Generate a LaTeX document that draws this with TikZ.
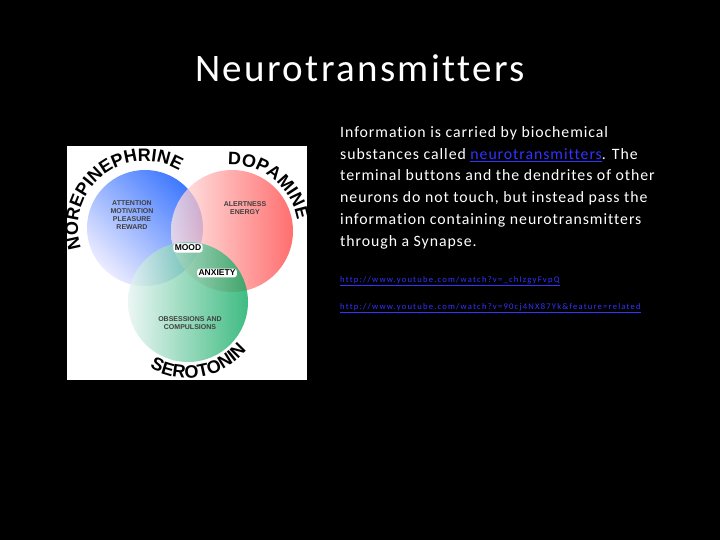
\documentclass[tikz,border=0pt]{standalone}
\usepackage{fontspec}
\setmainfont{Carlito}[Ligatures=NoCommon]
\newfontfamily\lab{Liberation Sans}
\usetikzlibrary{decorations.text}
\begin{document}
\begin{tikzpicture}[x=1pt,y=-1pt,
  body/.style={anchor=base west,inner sep=0,font=\addfontfeature{LetterSpace=6}\fontsize{15.8}{18}\selectfont,text=white},
  lnk/.style={anchor=base west,inner sep=0,font=\addfontfeature{LetterSpace=14}\fontsize{8.6}{9}\selectfont,text=blue!80!white},
  small/.style={font=\lab\bfseries\fontsize{7}{8}\selectfont,align=center,text=black!75,inner sep=0},
  tag/.style={font=\lab\bfseries\fontsize{8.5}{9}\selectfont,fill=white,rounded corners=3pt,inner sep=1.5pt,text=black}]
\fill[black] (0,0) rectangle (720,540);
\node[font=\addfontfeature{LetterSpace=6}\fontsize{39}{40}\selectfont,text=white,inner sep=0] (title) at (360,68) {Neurotransmitters};
\fill[white] (67,146) rectangle (307,380);
\begin{scope}[fill opacity=0.75]
\shade[left color=blue!10,right color=blue!70!cyan,shading angle=135] (145,228) circle (58);
\shade[left color=red!10,right color=red!75] (232,231) circle (61);
\shade[left color=green!10!teal!10,right color=teal!70!green] (188,302) circle (60);
\end{scope}
\path[decorate,decoration={text along path,text align=center,text={|\lab\bfseries\fontsize{18}{18}\selectfont|NOREPINEPHRINE}}]
  (145,228) ++(158:67) arc[start angle=158,end angle=305,radius=67];
\path[decorate,decoration={text along path,text align=center,text={|\lab\bfseries\fontsize{18}{18}\selectfont|DOPAMINE}}]
  (232,231) ++(245:66) arc[start angle=245,end angle=372,radius=66];
\path[decorate,decoration={text along path,text align=center,text={|\lab\bfseries\fontsize{18}{18}\selectfont|SEROTONIN}}]
  (188,302) ++(125:76) arc[start angle=125,end angle=35,radius=76];
\node[small] (att) at (132,215) {ATTENTION\\MOTIVATION\\PLEASURE\\REWARD};
\node[small] (ale) at (245,208) {ALERTNESS\\ENERGY};
\node[small] (obs) at (190,323) {OBSESSIONS AND\\COMPULSIONS};
\node[tag] (mood) at (188,248) {MOOD};
\node[tag] (anx) at (217,273) {ANXIETY};
\node[body] (l1) at (340,138) {Information is carried by biochemical};
\node[body] (l2) at (340,160) {substances called \textcolor{blue!80!white}{\underline{neurotransmitters}}. The};
\node[body] (l3) at (340,181) {terminal buttons and the dendrites of other};
\node[body] (l4) at (340,203) {neurons do not touch, but instead pass the};
\node[body] (l5) at (340,225) {information containing neurotransmitters};
\node[body] (l6) at (340,247) {through a Synapse.};
\node[lnk] (u1) at (340,282) {\underline{http://www.youtube.com/watch?v=\_chIzgyFvpQ}};
\node[lnk] (u2) at (340,309) {\underline{http://www.youtube.com/watch?v=90cj4NX87Yk\&feature=related}};
\end{tikzpicture}
\end{document}
